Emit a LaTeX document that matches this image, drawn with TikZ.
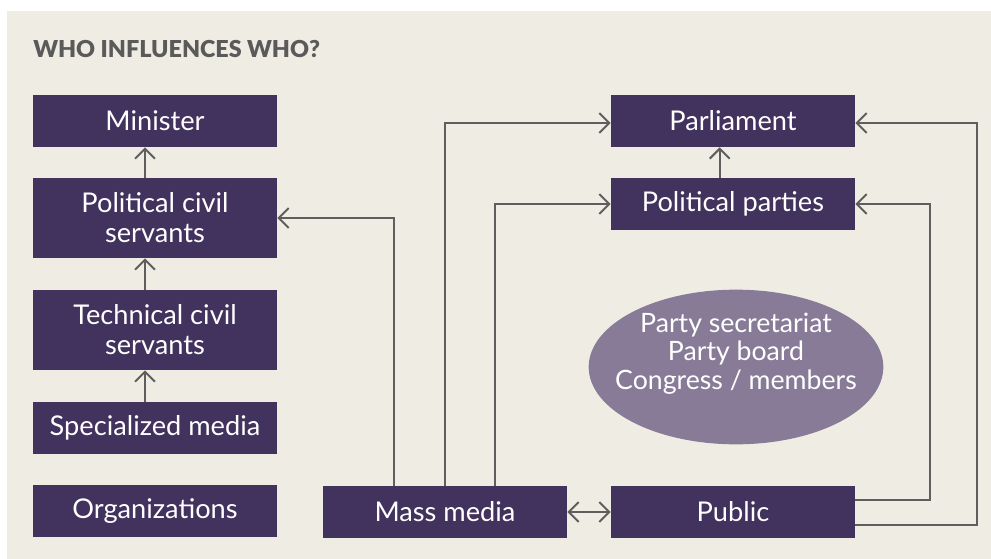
\documentclass[tikz,border=0pt]{standalone}
\usepackage{fontspec}
\setmainfont{Lato}
\newfontfamily\titlefont{Lato Black}
\usetikzlibrary{arrows.meta,shapes.geometric}
\definecolor{bgbeige}{RGB}{239,237,227}
\definecolor{boxpurple}{RGB}{66,50,94}
\definecolor{ovalpurple}{RGB}{136,123,152}
\definecolor{linegray}{RGB}{94,94,94}
\definecolor{titlegray}{RGB}{90,90,90}
\begin{document}
\begin{tikzpicture}[x = .75pt, y = -.75pt,
	box/.style = {fill = boxpurple, text = white, minimum width = 183pt, minimum height = 39pt, inner sep = 0pt, align = center, font = \fontsize{20.4}{22.5}\selectfont},
	tallbox/.style = {box, minimum height = 60pt},
	oval/.style = {ellipse, fill = ovalpurple, minimum width = 221pt, minimum height = 116pt, inner sep = 0pt},
	ovaltext/.style = {text = white, inner sep = 0pt, align = center, font = \fontsize{20}{21.4}\selectfont},
	link/.style = {draw = linegray, line width = 1.5pt, -{Straight Barb[length = 7.5pt, width = 15pt]}}]
	\useasboundingbox (0,0) rectangle (991,559);
	\fill[bgbeige] (7,11) rectangle (991,559); %background
	\node[anchor = base west, inner sep = 0pt, text = titlegray, font = \fontsize{17.5}{22}\titlefont] (title) at (33,58) {WHO INFLUENCES WHO?};
	% left column
	\node[box] (minister) at (155,121) {Minister};
	\node[tallbox] (polcs) at (155,218) {Political civil\\servants};
	\node[tallbox] (techcs) at (155,330) {Technical civil\\servants};
	\node[box] (specmedia) at (155,428) {Specialized media};
	\node[box] (orgs) at (155,511) {Organizations};
	% right part
	\node[box] (massmedia) at (445,512) {Mass media};
	\node[box] (public) at (733,512) {Public};
	\node[box] (parliament) at (733,121) {Parliament};
	\node[box] (parties) at (733,204) {Political parties};
	\node[oval] (partyorg) at (736,367) {};
	\node[ovaltext] (partytext) at ([yshift = 10pt]partyorg.center) {Party secretariat\\Party board\\Congress / members};
	% arrows
	\draw[link] ([xshift = -7.5pt]polcs.north) -- ([xshift = -7.5pt]minister.south);
	\draw[link] ([xshift = -7.5pt]techcs.north) -- ([xshift = -7.5pt]polcs.south);
	\draw[link] ([xshift = -7.5pt]specmedia.north) -- ([xshift = -7.5pt]techcs.south);
	\draw[link] ([xshift = -10pt]parties.north) -- ([xshift = -10pt]parliament.south);
	\draw[link] ([xshift = -38.25pt]massmedia.north) |- (polcs.east);
	\draw[link] (massmedia.north) |- ([yshift = -1.5pt]parliament.west);
	\draw[link] ([xshift = 37.5pt]massmedia.north) |- (parties.west);
	\draw[link, {Straight Barb[length = 7.5pt, width = 15pt]}-{Straight Barb[length = 7.5pt, width = 15pt]}] (massmedia) -- (public);
	\draw[link] ([yshift = 9pt]public.east) -- ++(75,0) |- (parties.east);
	\draw[link] ([yshift = -9.75pt]public.east) -- ++(122,0) |- ([yshift = -1.5pt]parliament.east);
\end{tikzpicture}
\end{document}
